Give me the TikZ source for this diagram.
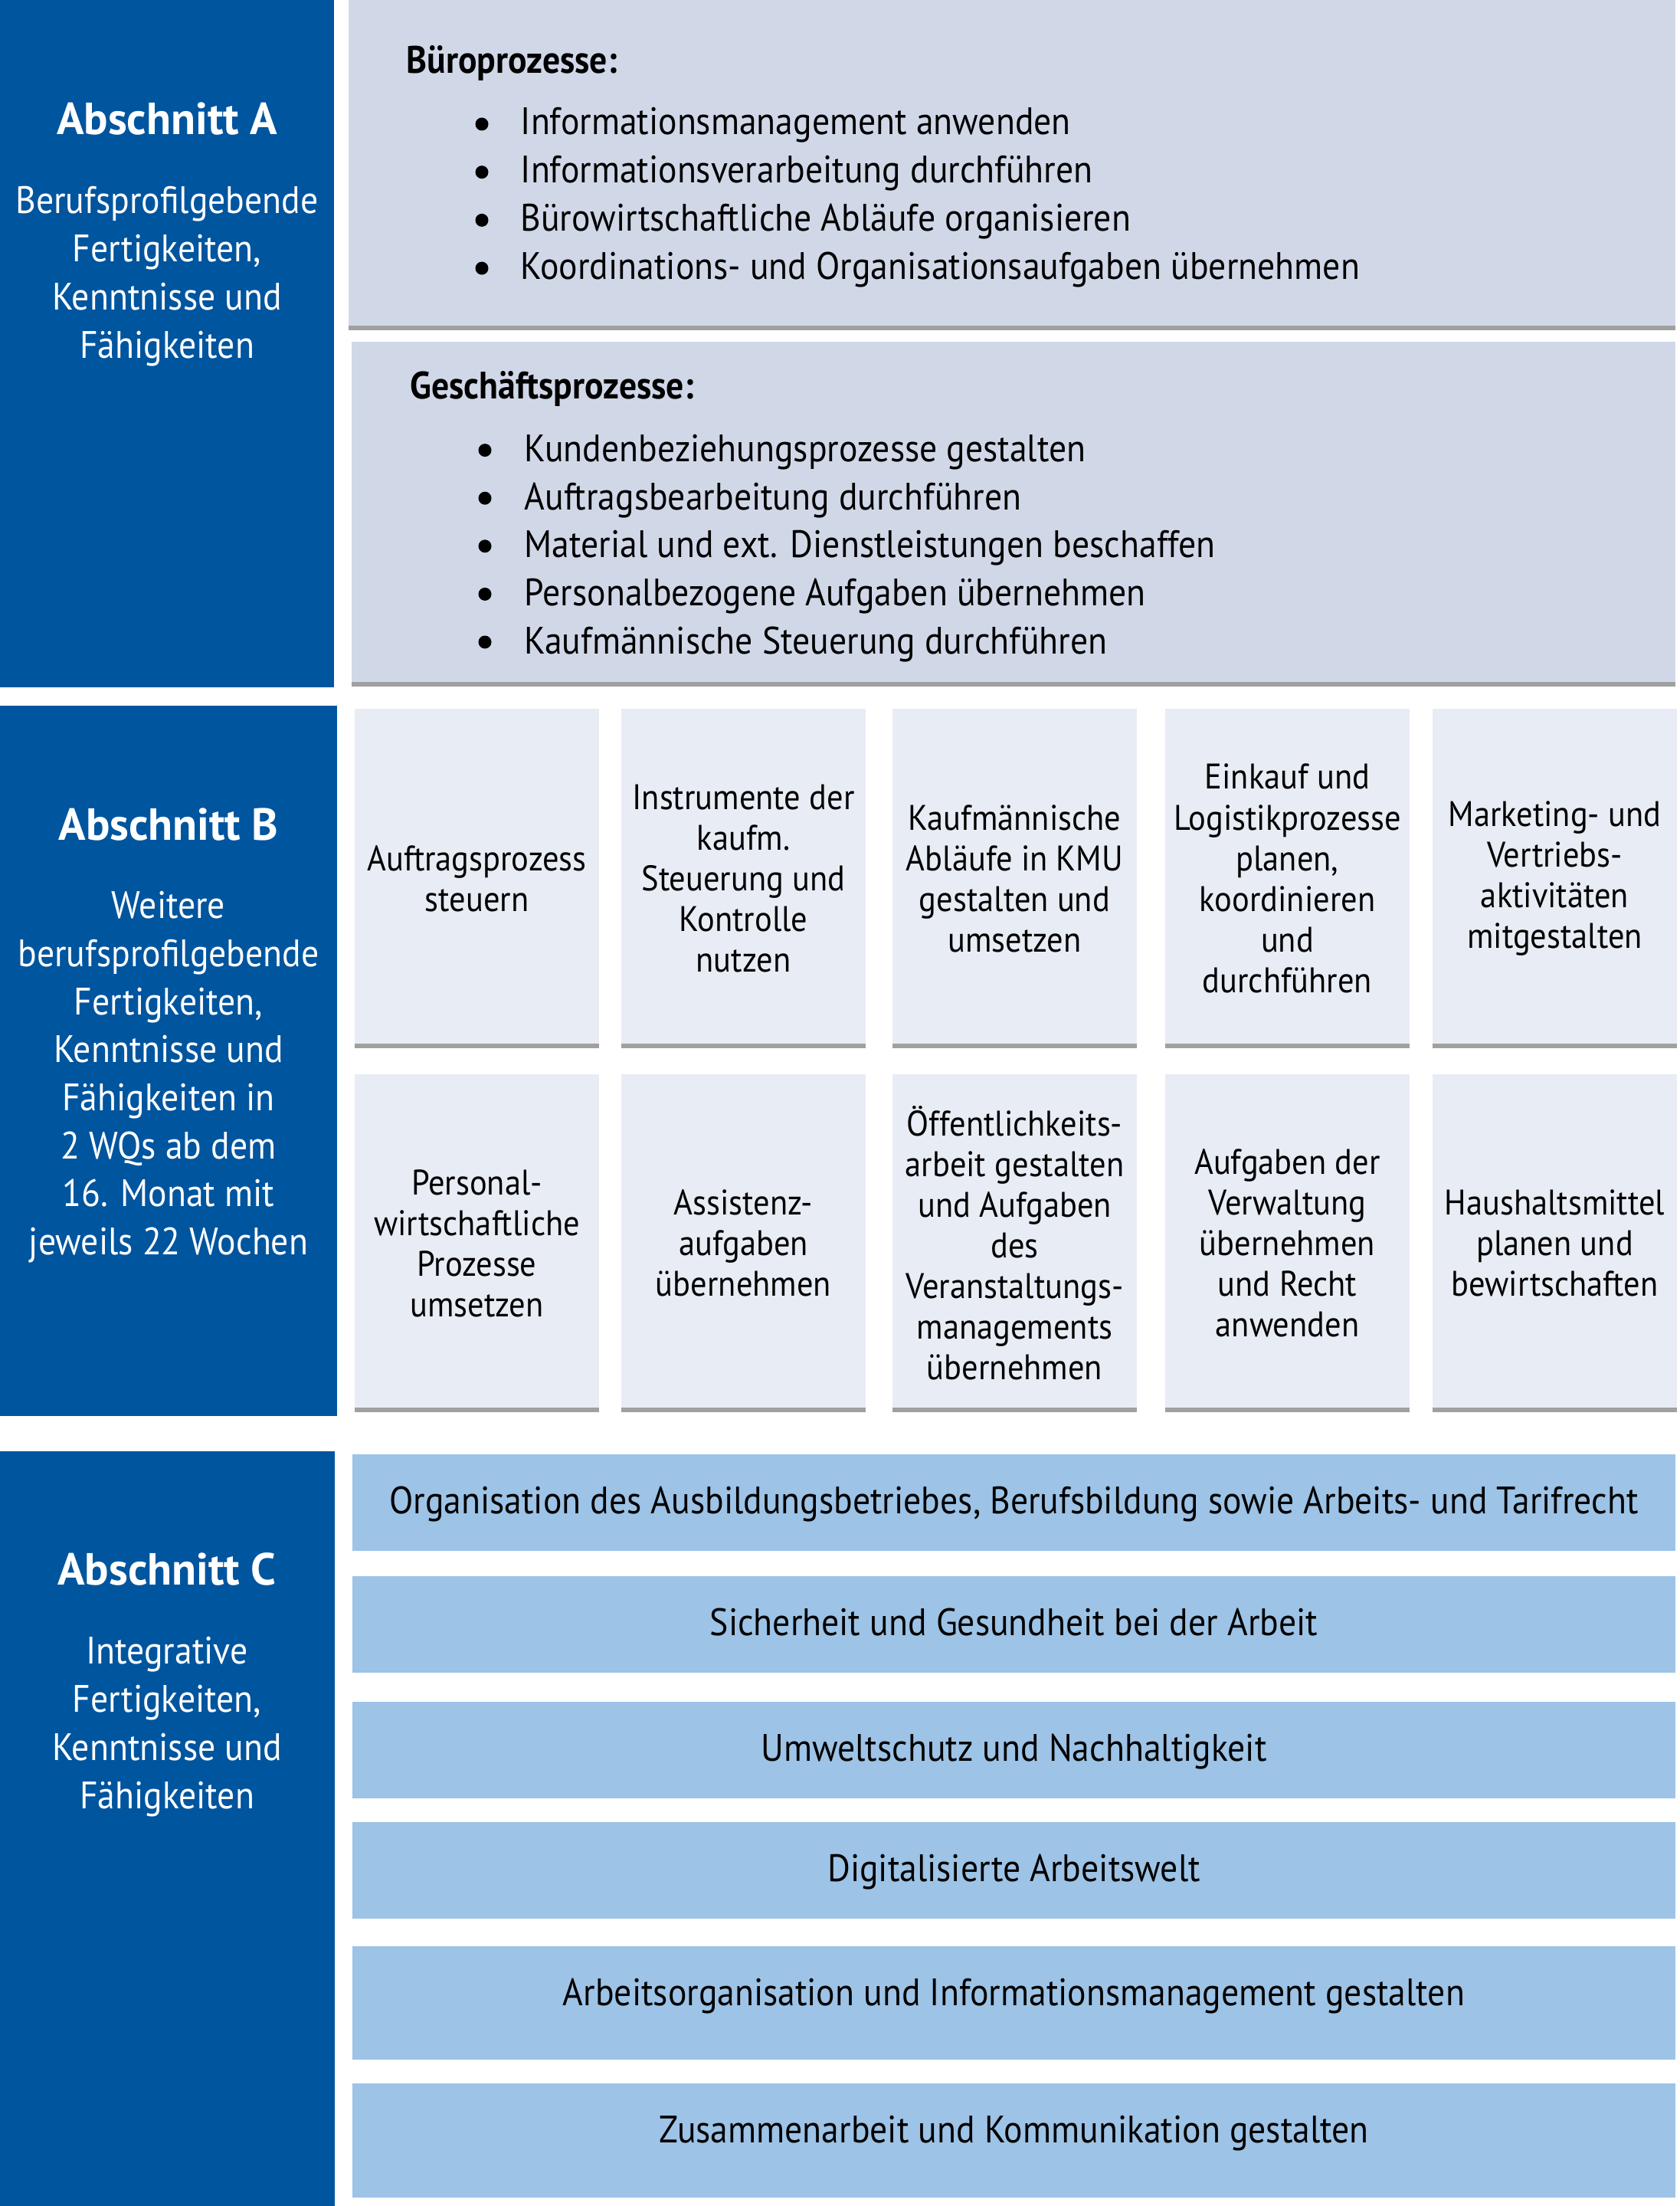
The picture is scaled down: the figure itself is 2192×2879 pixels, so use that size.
\documentclass[tikz,border=0pt]{standalone}
\usepackage{fontspec}
\setmainfont{PT Sans}[FakeStretch=0.915]
\newfontfamily\titelschrift{PT Sans}
\usepackage{tikz}
\definecolor{abschnitt}{HTML}{00559F}
\definecolor{prozess}{HTML}{D0D8E8}
\definecolor{modulfarbe}{HTML}{E8ECF4}
\definecolor{querfarbe}{HTML}{9DC3E6}
\definecolor{kantenfarbe}{HTML}{A0A0A0}
\newcommand{\grundschrift}{\fontsize{14.2}{15.2}\selectfont}
\newcommand{\modulschrift}{\fontsize{13.2}{15.1}\selectfont}
\tikzstyle{abschnitt box}=[fill=abschnitt, inner sep=0pt, outer sep=0pt, anchor=north west]
\tikzstyle{titel}=[font=\titelschrift\fontsize{16.7}{20}\selectfont\bfseries, text=white, inner sep=0pt, anchor=base]
\tikzstyle{zeile}=[font=\grundschrift, text=white, inner sep=0pt, anchor=base]
\tikzstyle{prozess box}=[fill=prozess, inner sep=0pt, outer sep=0pt, anchor=north west]
\tikzstyle{kopf}=[font=\grundschrift\bfseries, inner sep=0pt, anchor=base west]
\tikzstyle{punkt}=[circle, fill=black, minimum size=1.7mm, inner sep=0pt]
\tikzstyle{eintrag}=[font=\grundschrift, inner sep=0pt, anchor=base west]
\tikzstyle{modul}=[fill=modulfarbe, minimum width=31.9mm, align=center, font=\modulschrift, inner sep=0pt, outer sep=0pt, anchor=north west]
\tikzstyle{kante}=[draw=kantenfarbe, line width=0.6mm]
\tikzstyle{quer}=[fill=querfarbe, minimum width=172.7mm, inner sep=0pt, outer sep=0pt, anchor=north west]
\tikzstyle{quertext}=[font=\grundschrift, inner sep=0pt, anchor=base]

\begin{document}
\begin{tikzpicture}[x=0.1mm,y=-0.1mm]
    \useasboundingbox (0,0) rectangle (2192,2879);
    % Abschnitte links
    \node[abschnitt box, minimum width=43.6mm, minimum height=89.7mm] (A) at (0,0) {};
    \node[abschnitt box, minimum width=44mm, minimum height=92.7mm] (B) at (0,921) {};
    \node[abschnitt box, minimum width=43.7mm, minimum height=98.5mm] (C) at (0,1894) {};
    \node[titel] (tA) at (218,176) {Abschnitt A};
    \foreach \txt [count=\k] in {Berufsprofilgebende, {Fertigkeiten,}, Kenntnisse und, Fähigkeiten}
        \node[zeile] (tA\k) at (218,216+63*\k) {\txt};
    \node[titel] (tB) at (220,1096) {Abschnitt B};
    \foreach \txt [count=\k] in {Weitere, berufsprofilgebende, {Fertigkeiten,}, Kenntnisse und, Fähigkeiten in, 2 WQs ab dem, 16. Monat mit, jeweils 22 Wochen}
        \node[zeile] (tB\k) at (220,1136+62.7*\k) {\txt};
    \node[titel] (tC) at (218,2068) {Abschnitt C};
    \foreach \txt [count=\k] in {Integrative, {Fertigkeiten,}, Kenntnisse und, Fähigkeiten}
        \node[zeile] (tC\k) at (218,2108+63*\k) {\txt};
    % Abschnitt A: Prozesse
    \node[prozess box, minimum width=173.2mm, minimum height=43.1mm] (buero) at (455,0) {};
    \draw[kante] ([yshift=0.3mm]buero.south west) -- ([yshift=0.3mm]buero.south east);
    \node[kopf] (bueroK) at (530,96) {Büroprozesse:};
    \foreach \txt [count=\k] in {Informationsmanagement anwenden, Informationsverarbeitung durchführen, Bürowirtschaftliche Abläufe organisieren, Koordinations- und Organisationsaufgaben übernehmen}{
        \node[punkt] (bP\k) at (629,99.3+62.7*\k) {};
        \node[eintrag] (bE\k) at (679,113.3+62.7*\k) {\txt};
    }
    \node[prozess box, minimum width=172.8mm, minimum height=45mm] (geschaeft) at (459,446) {};
    \draw[kante] ([yshift=0.3mm]geschaeft.south west) -- ([yshift=0.3mm]geschaeft.south east);
    \node[kopf] (geschaeftK) at (535,521) {Geschäftsprozesse:};
    \foreach \txt [count=\k] in {Kundenbeziehungsprozesse gestalten, Auftragsbearbeitung durchführen, Material und ext. Dienstleistungen beschaffen, Personalbezogene Aufgaben übernehmen, Kaufmännische Steuerung durchführen}{
        \node[punkt] (gP\k) at (633,525+62.6*\k) {};
        \node[eintrag] (gE\k) at (684,540+62.6*\k) {\txt};
    }
    % Abschnitt B: Module
    \foreach \x/\txt [count=\k] in {463/{Auftragsprozess\\steuern}, 811/{Instrumente der\\kaufm.\\Steuerung und\\Kontrolle\\nutzen}, 1165/{Kaufmännische\\Abläufe in KMU\\gestalten und\\umsetzen}, 1521/{Einkauf und\\Logistikprozesse\\planen,\\koordinieren\\und\\durchführen}, 1870/{Marketing- und\\Vertriebs-\\aktivitäten\\mitgestalten}}{
        \node[modul, minimum height=44.3mm] (mo\k) at (\x,925) {\txt};
        \draw[kante] ([yshift=0.3mm]mo\k.south west) -- ([yshift=0.3mm]mo\k.south east);
    }
    \foreach \x/\txt [count=\k] in {463/{Personal-\\wirtschaftliche\\Prozesse\\umsetzen}, 811/{Assistenz-\\aufgaben\\übernehmen}, 1165/{Öffentlichkeits-\\arbeit gestalten\\und Aufgaben\\des\\Veranstaltungs-\\managements\\übernehmen}, 1521/{Aufgaben der\\Verwaltung\\übernehmen\\und Recht\\anwenden}, 1870/{Haushaltsmittel\\planen und\\bewirtschaften}}{
        \node[modul, minimum height=44.1mm] (mu\k) at (\x,1402) {\txt};
        \draw[kante] ([yshift=0.3mm]mu\k.south west) -- ([yshift=0.3mm]mu\k.south east);
    }
    % Abschnitt C: Querschnitt
    \foreach \y/\h/\txt [count=\k] in {1898/12.6/{Organisation des Ausbildungsbetriebes, Berufsbildung sowie Arbeits- und Tarifrecht}, 2057/12.6/{Sicherheit und Gesundheit bei der Arbeit}, 2221/12.6/{Umweltschutz und Nachhaltigkeit}, 2378/12.6/{Digitalisierte Arbeitswelt}, 2540/14.8/{Arbeitsorganisation und Informationsmanagement gestalten}, 2719/14.9/{Zusammenarbeit und Kommunikation gestalten}}{
        \node[quer, minimum height=\h mm] (q\k) at (460,\y) {};
        \path (q\k.north) ++(0,77) node[quertext] (qt\k) {\txt};
    }
\end{tikzpicture}
\end{document}
